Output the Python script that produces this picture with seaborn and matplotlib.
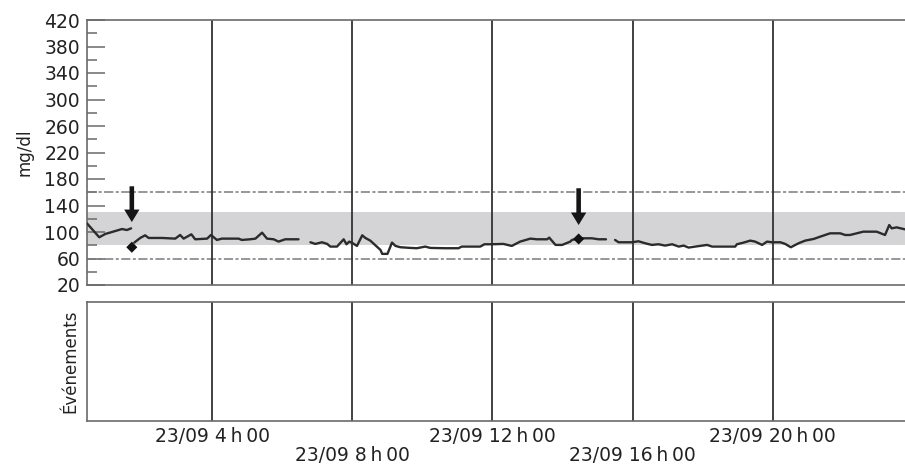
import numpy as np
import pandas as pd
import seaborn as sns
import matplotlib.pyplot as plt

# ---------------- data (hours since 23/09 0h00, glucose mg/dl) ----------------
seg1_t = [0.42, 0.57, 0.77, 0.94, 1.23, 1.42, 1.56, 1.68]
seg1_v = [113, 104, 92, 97, 101.5, 104.5, 103, 105.5]

seg2_t = [1.77, 1.94, 2.08, 2.18, 2.56, 2.94, 3.08, 3.18, 3.40, 3.51, 3.85, 3.96,
          4.13, 4.27, 4.75, 4.84, 5.08, 5.23, 5.42, 5.56, 5.75, 5.89, 6.08, 6.46]
seg2_v = [84, 91, 95, 91, 91, 90, 95.5, 90, 96.5, 89, 90, 95.5,
          88, 90, 90, 88, 89, 90, 99, 90, 89, 85.5, 89, 89]

seg3_t = [6.80, 6.94, 7.13, 7.28, 7.37, 7.56, 7.75, 7.83, 7.91, 8.01, 8.13, 8.28,
          8.37, 8.51, 8.80, 8.85, 9.00, 9.13, 9.23, 9.37, 9.65, 9.84, 10.08, 10.22,
          10.65, 11.03, 11.12, 11.65, 11.77, 11.98, 12.31, 12.55, 12.79, 13.08, 13.27,
          13.56, 13.62, 13.80, 13.99, 14.22, 14.27, 14.46, 14.65, 14.84, 15.03, 15.24]
seg3_v = [84.5, 82, 84.5, 82, 78, 78, 89, 81.5, 85.5, 83, 79, 95,
          91, 87, 73, 67, 67, 84, 79, 77, 76, 75.5, 78, 76,
          75.5, 75.5, 78, 78, 81.5, 81.5, 82, 79, 85.5, 90, 89,
          89, 91.5, 80.5, 80.5, 85.5, 88, 90.5, 90.5, 90.5, 89, 89]

seg4_t = [15.50, 15.60, 15.98, 16.17, 16.36, 16.55, 16.74, 16.93, 17.13, 17.32, 17.46,
          17.60, 17.79, 18.13, 18.27, 18.93, 18.98, 19.17, 19.36, 19.50, 19.70, 19.84,
          19.98, 20.22, 20.36, 20.52, 20.74, 20.93, 21.17, 21.36, 21.64, 21.93, 22.07,
          22.21, 22.59, 22.97, 23.21, 23.33, 23.40, 23.54, 23.78]
seg4_v = [88, 84.5, 84.5, 86, 83, 80.5, 81.5, 79.5, 81.5, 78, 79.5,
          76.5, 78, 80.5, 78, 78, 81.5, 84, 87, 85.5, 80.5, 85.5,
          84.5, 84.5, 82, 77, 83, 87, 89.5, 93, 98, 98, 95.5,
          95.5, 100.5, 100.5, 95.5, 110.5, 105.5, 107, 104]

# events (finger-stick readings) and arrows
event_t = [1.70, 14.46]
event_v = [77, 89.5]
arrow_tail = [169, 166]
arrow_tip = [115, 110.5]

target_low, target_high = 80, 130
limit_low, limit_high = 60, 160

hour_ticks = [4, 8, 12, 16, 20]
hour_labels = ["23/09 4\u2009h\u200900", "\n23/09 8\u2009h\u200900",
               "23/09 12\u2009h\u200900", "\n23/09 16\u2009h\u200900",
               "23/09 20\u2009h\u200900"]
y_major = list(range(20, 421, 40))
y_minor = list(range(40, 401, 40))

# ---------------- build frame ----------------
frames = []
for i, (t, v) in enumerate([(seg1_t, seg1_v), (seg2_t, seg2_v),
                            (seg3_t, seg3_v), (seg4_t, seg4_v)]):
    frames.append(pd.DataFrame({"t": t, "v": v, "seg": i}))
df = pd.concat(frames, ignore_index=True)

# ---------------- figure ----------------
sns.set_theme(style="white")
plt.rcParams['font.family'] = ['DejaVu Sans']

W, H = 905, 470
fig = plt.figure(figsize=(W / 100, H / 100), dpi=100)
ax1 = fig.add_axes([87 / W, 1 - 285 / H, 1 - 87 / W, 265 / H])
ax2 = fig.add_axes([87 / W, 1 - 421 / H, 1 - 87 / W, 119 / H])

spine_col = '#6a6a6a'
text_col = '#222222'

ax1.axhspan(target_low, target_high, color='#d4d4d6', lw=0, zorder=0)
for yv in (limit_low, limit_high):
    ax1.axhline(yv, color='#7a7a7a', lw=1.1, ls=(0, (6, 1.6, 2, 1.6)), zorder=1)
for t in hour_ticks:
    ax1.axvline(t, color='#333333', lw=1.3, zorder=2)
    ax2.axvline(t, color='#333333', lw=1.3, zorder=2)

sns.lineplot(data=df, x="t", y="v", units="seg", estimator=None,
             color='#2b2b2b', lw=1.7, ax=ax1, legend=False, zorder=3)
sns.scatterplot(x=event_t, y=event_v, marker='D', color='#111111', s=32,
                edgecolor='none', ax=ax1, zorder=5, legend=False)
for t, y0, y1 in zip(event_t, arrow_tail, arrow_tip):
    ax1.annotate('', xy=(t, y1), xytext=(t, y0),
                 arrowprops=dict(width=3.3, headwidth=11, headlength=9,
                                 facecolor='#151515', edgecolor='#151515', lw=0),
                 zorder=6)

for ax in (ax1, ax2):
    ax.set_xlim(0.42, 23.78)
    for s in ('left', 'top', 'bottom'):
        ax.spines[s].set_visible(True)
        ax.spines[s].set_color(spine_col)
        ax.spines[s].set_linewidth(1.2)
    ax.spines['right'].set_visible(False)
    ax.set_xlabel('')

ax1.set_ylim(20, 420)
ax1.set_yticks(y_major)
ax1.set_yticks(y_minor, minor=True)
ax1.set_yticklabels([str(v) for v in y_major])
ax1.tick_params(axis='y', which='major', direction='in', length=13, width=1.1,
                color=spine_col, labelsize=13.5, labelcolor=text_col, pad=5, left=True)
ax1.tick_params(axis='y', which='minor', direction='in', length=7.5, width=1.1,
                color=spine_col, left=True)
ax1.set_xticks(hour_ticks)
ax1.set_xticklabels([])
ax1.tick_params(axis='x', length=0)
ax1.set_ylabel('mg/dl', fontsize=12, color=text_col)
ax1.yaxis.set_label_coords(-0.066, 0.5)

ax2.set_ylim(0, 1)
ax2.set_yticks([])
ax2.set_xticks(hour_ticks)
ax2.set_xticklabels(hour_labels, fontsize=13.5, color=text_col, linespacing=1.0)
ax2.tick_params(axis='x', length=0, pad=4)
ax2.set_ylabel('Événements', fontsize=12, color=text_col)
ax2.yaxis.set_label_coords(-0.009, 0.5)

fig.savefig('out.png', dpi=100)
